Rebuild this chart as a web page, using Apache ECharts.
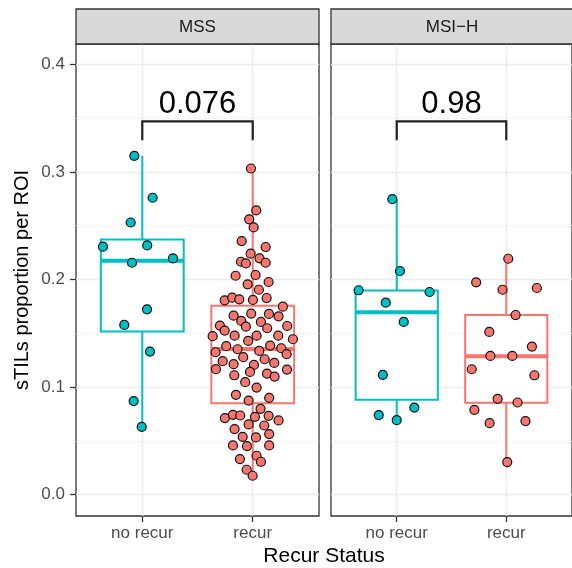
<!DOCTYPE html>
<html>
<head>
<meta charset="utf-8">
<script src="https://cdn.jsdelivr.net/npm/echarts@6/dist/echarts.min.js"></script>
<style>
    html, body {margin: 0; padding: 0; background: #fff;}
    #main {width: 572px; height: 568px;}
</style>
</head>
<body>
<div id="main"></div>
<script>
var categories = ['no recur', 'recur'];
var facets = ['MSS', 'MSI−H'];
var yTicks = [0, 0.1, 0.2, 0.3, 0.4];
var yMinor = [0.05, 0.15, 0.25, 0.35];

// box stats: [lower whisker, q1, median, q3, upper whisker]
var mssNoRecurBox = [0.0631, 0.1517, 0.2175, 0.2373, 0.315];
var mssRecurBox = [0.0176, 0.0851, 0.1355, 0.1757, 0.3032];
var msiNoRecurBox = [0.0693, 0.0882, 0.1696, 0.1897, 0.2747];
var msiRecurBox = [0.0303, 0.0854, 0.1287, 0.167, 0.2193];

// jittered points: offset from category centre and value
var mssNoRecurJit = [-0.072, 0.094, -0.105, -0.356, 0.045, -0.093, 0.278, 0.043, -0.163, 0.07, -0.078, -0.005];
var mssNoRecurVal = [0.315, 0.276, 0.253, 0.2305, 0.2317, 0.2156, 0.2196, 0.1723, 0.1578, 0.133, 0.087, 0.0631];

var mssRecurJit = [-0.016, 0.032, -0.032, 0.008, -0.10, 0.117, -0.019, 0.062, -0.107, -0.062, 0.117,
    -0.155, 0.026, 0.144, -0.046, 0.056, -0.254, -0.186, -0.122, 0.002, 0.126, 0.273,
    -0.173, -0.014, 0.147, 0.234, -0.104, 0.074, -0.297, -0.254, -0.062, 0.131, 0.312,
    -0.363, -0.164, 0.035, 0.231, -0.041, 0.364, -0.24, 0.158, -0.137, 0.059, 0.258,
    -0.336, 0.307, -0.272, -0.086, 0.108, 0.195, -0.173, 0.011, -0.333, -0.025, 0.31,
    -0.167, 0.129, 0.198, -0.068, 0.035, -0.152, 0.149, -0.037, 0.071, -0.252, -0.179,
    -0.113, 0.02, 0.144, 0.234, -0.037, 0.104, -0.164, 0.149, -0.091, 0.029, -0.179,
    -0.052, 0.149, 0.035, -0.116, 0.074, -0.055, -0.001];
var mssRecurVal = [0.3032, 0.2642, 0.2559, 0.2484, 0.2357, 0.2302, 0.224, 0.2197, 0.2165, 0.215, 0.2156,
    0.2035, 0.2042, 0.1977, 0.1955, 0.1905, 0.1807, 0.1831, 0.1816, 0.181, 0.1828, 0.1748,
    0.1664, 0.1683, 0.168, 0.1658, 0.1615, 0.1606, 0.1572, 0.1525, 0.1562, 0.1547, 0.1568,
    0.1473, 0.1478, 0.1478, 0.1478, 0.1429, 0.1445, 0.138, 0.1386, 0.1352, 0.1336, 0.1361,
    0.1324, 0.1306, 0.1241, 0.1278, 0.1259, 0.1225, 0.1213, 0.1206, 0.1167, 0.1141, 0.1163,
    0.111, 0.1126, 0.1098, 0.1046, 0.0996, 0.0928, 0.09, 0.0875, 0.0798, 0.0712, 0.0742,
    0.0736, 0.0724, 0.0733, 0.069, 0.0653, 0.0643, 0.061, 0.0563, 0.0538, 0.0532, 0.0458,
    0.0452, 0.0458, 0.0362, 0.0331, 0.0306, 0.0232, 0.0176];

var msiNoRecurJit = [-0.04, 0.03, -0.348, 0.30, -0.10, 0.064, -0.127, 0.161, -0.164, 0.0];
var msiNoRecurVal = [0.2747, 0.2079, 0.19, 0.1884, 0.1785, 0.1606, 0.1114, 0.081, 0.074, 0.0693];

var msiRecurJit = [0.018, -0.275, -0.034, 0.279, 0.085, -0.155, 0.234, -0.145, 0.055, -0.315, 0.257,
    -0.079, 0.103, -0.291, -0.152, 0.175, 0.009];
var msiRecurVal = [0.2193, 0.1974, 0.1905, 0.1921, 0.167, 0.1513, 0.1377, 0.129, 0.129, 0.1166, 0.111,
    0.0891, 0.0857, 0.0789, 0.0665, 0.0684, 0.0303];

var pValues = ['0.076', '0.98'];
var bracketY = 0.347;
var bracketTip = 0.3295;

var FONT = '"Liberation Sans", Arial, Helvetica, sans-serif';
var colors = ['#00BFC4', '#F8766D'];
var boxes = [[mssNoRecurBox, mssRecurBox], [msiNoRecurBox, msiRecurBox]];
var jits = [[mssNoRecurJit, mssRecurJit], [msiNoRecurJit, msiRecurJit]];
var vals = [[mssNoRecurVal, mssRecurVal], [msiNoRecurVal, msiRecurVal]];

var panels = [{left: 76, width: 243}, {left: 331, width: 242}];
var gridTop = 44, gridHeight = 472;

var myChart = echarts.init(document.getElementById('main'));

var grids = [], xAxes = [], yAxes = [], series = [], graphics = [];

panels.forEach(function (p, i) {
    grids.push({
        left: p.left, top: gridTop, width: p.width, height: gridHeight,
        show: true, borderColor: '#333', borderWidth: 1.3, backgroundColor: '#fff'
    });
    xAxes.push({
        type: 'value', gridIndex: i, min: 0.4, max: 2.6, position: 'bottom',
        axisLine: {show: false, onZero: false},
        axisTick: {show: true, customValues: [1, 2], length: 6, lineStyle: {color: '#333', width: 1.3}},
        axisLabel: {
            customValues: [1, 2], color: '#4d4d4d', fontSize: 17, fontFamily: FONT, margin: 9,
            formatter: function (v) { return categories[Math.round(v) - 1]; }
        },
        splitLine: {show: true, lineStyle: {color: '#ebebeb', width: 1.4}}
    });
    // major y axis
    yAxes.push({
        type: 'value', gridIndex: i, min: -0.0198, max: 0.4189, position: 'left',
        axisLine: {show: false, onZero: false},
        axisTick: {show: i === 0, customValues: yTicks, length: 6, lineStyle: {color: '#333', width: 1.3}},
        axisLabel: {
            show: i === 0, customValues: yTicks, color: '#4d4d4d', fontSize: 17, fontFamily: FONT, margin: 11,
            formatter: function (v) { return v.toFixed(1); }
        },
        splitLine: {show: true, lineStyle: {color: '#ebebeb', width: 1.4}}
    });
    // minor gridlines
    yAxes.push({
        type: 'value', gridIndex: i, min: -0.0198, max: 0.4189, position: 'right',
        axisLine: {show: false, onZero: false},
        axisTick: {show: false, customValues: yMinor},
        axisLabel: {show: false},
        splitLine: {show: true, lineStyle: {color: '#f1f1f1', width: 0.9}}
    });

    // boxes
    series.push({
        type: 'custom', xAxisIndex: i, yAxisIndex: i * 2, z: 3,
        encode: {x: 0, y: [1, 2, 3, 4, 5]},
        data: boxes[i].map(function (b, c) { return [c + 1, b[0], b[1], b[2], b[3], b[4], c]; }),
        renderItem: function (params, api) {
            var x = api.value(0), hw = 0.375;
            var col = colors[api.value(6)];
            var lo = api.coord([x, api.value(1)]);
            var q1 = api.coord([x, api.value(2)]);
            var md = api.coord([x, api.value(3)]);
            var q3 = api.coord([x, api.value(4)]);
            var hi = api.coord([x, api.value(5)]);
            var l = api.coord([x - hw, 0])[0], r = api.coord([x + hw, 0])[0];
            var ls = {stroke: col, lineWidth: 2, fill: null};
            return {
                type: 'group', children: [
                    {type: 'line', shape: {x1: lo[0], y1: lo[1], x2: q1[0], y2: q1[1]}, style: ls},
                    {type: 'line', shape: {x1: q3[0], y1: q3[1], x2: hi[0], y2: hi[1]}, style: ls},
                    {type: 'rect', shape: {x: l, y: q3[1], width: r - l, height: q1[1] - q3[1]},
                        style: {stroke: col, lineWidth: 2, fill: '#fff'}},
                    {type: 'line', shape: {x1: l, y1: md[1], x2: r, y2: md[1]}, style: {stroke: col, lineWidth: 4}}
                ]
            };
        }
    });

    // jittered points
    [0, 1].forEach(function (c) {
        series.push({
            type: 'scatter', xAxisIndex: i, yAxisIndex: i * 2, z: 5,
            symbol: 'circle', symbolSize: 9,
            itemStyle: {color: colors[c], borderColor: '#111', borderWidth: 1.2, opacity: 1},
            emphasis: {disabled: true},
            data: vals[i][c].map(function (v, k) { return [c + 1 + jits[i][c][k], v]; })
        });
    });

    // significance bracket
    series.push({
        type: 'custom', xAxisIndex: i, yAxisIndex: i * 2, z: 6,
        encode: {x: [0, 1], y: [2, 3]},
        data: [[1, 2, bracketY, bracketTip, i]],
        renderItem: function (params, api) {
            var a = api.coord([api.value(0), api.value(3)]);
            var b = api.coord([api.value(0), api.value(2)]);
            var c = api.coord([api.value(1), api.value(2)]);
            var d = api.coord([api.value(1), api.value(3)]);
            return {
                type: 'group', children: [
                    {type: 'polyline', shape: {points: [a, b, c, d]},
                        style: {stroke: '#222', lineWidth: 2.2, fill: null}},
                    {type: 'text', x: (b[0] + c[0]) / 2, y: b[1] - 1,
                        style: {text: pValues[api.value(4)], fill: '#000', font: '31px ' + FONT,
                            textAlign: 'center', textVerticalAlign: 'bottom'}}
                ]
            };
        }
    });

    // strip header
    graphics.push({
        type: 'rect', shape: {x: p.left, y: 9, width: p.width, height: gridTop - 9},
        style: {fill: '#d9d9d9', stroke: '#333', lineWidth: 1.3}, z: 10
    });
    graphics.push({
        type: 'text', x: p.left + p.width / 2, y: (9 + gridTop) / 2 + 1, z: 11,
        style: {text: facets[i], fill: '#1a1a1a', font: '17px ' + FONT, textAlign: 'center', textVerticalAlign: 'middle'}
    });
});

graphics.push({
    type: 'text', x: 324, y: 556,
    style: {text: 'Recur Status', fill: '#000', font: '21px ' + FONT, textAlign: 'center', textVerticalAlign: 'middle'}
});
graphics.push({
    type: 'text', x: 22, y: 280, rotation: Math.PI / 2,
    style: {text: 'sTILs proportion per ROI', fill: '#000', font: '20px ' + FONT, textAlign: 'center', textVerticalAlign: 'middle'}
});

var option = {
    animation: false,
    backgroundColor: '#fff',
    grid: grids,
    xAxis: xAxes,
    yAxis: yAxes,
    series: series,
    graphic: graphics
};

myChart.setOption(option);
</script>
</body>
</html>
